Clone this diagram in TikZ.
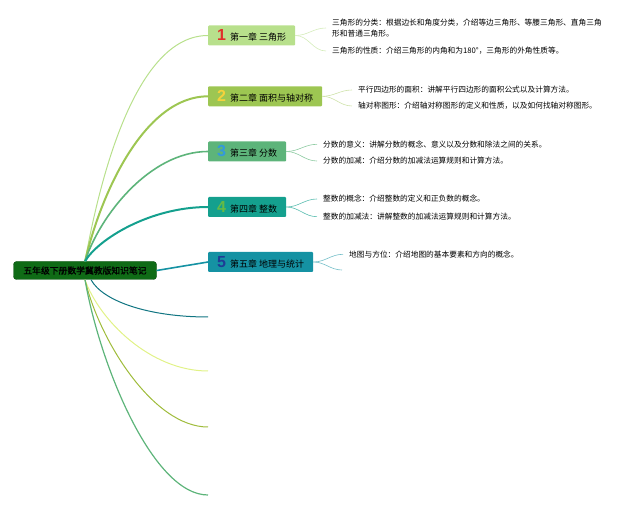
\documentclass[tikz,border=0pt]{standalone}
\usepackage{fontspec}
\newfontfamily\cjk[AutoFakeBold=1.2]{Noto Sans CJK SC}
\newfontfamily\numfont{Liberation Sans}
\usetikzlibrary{positioning}
\definecolor{rootgreen}{HTML}{0F6B16}
\definecolor{cA}{HTML}{B8E08C}\definecolor{cB}{HTML}{9DC652}\definecolor{cC}{HTML}{5DB47A}
\definecolor{cD}{HTML}{14A08E}\definecolor{cE}{HTML}{1592A3}
\definecolor{nA}{HTML}{E0302A}\definecolor{nB}{HTML}{F5D23C}\definecolor{nC}{HTML}{3399DD}
\definecolor{nD}{HTML}{66BB44}\definecolor{nE}{HTML}{1E3C96}
\newcommand\chnum[2]{{\numfont\bfseries\fontsize{16}{16}\selectfont\textcolor{#1}{#2}}\hspace{4pt}}

\begin{document}
\begin{tikzpicture}[x=1pt, y=-1pt,
  root/.style={fill=rootgreen, draw=rootgreen!70!black, rounded corners=3pt, minimum width=143pt, minimum height=18pt, inner sep=0pt, font=\cjk\fontsize{8.8}{10}\selectfont\bfseries},
  chap/.style={fill=#1, rounded corners=1pt, anchor=west, minimum height=20pt, inner xsep=9pt, inner ysep=0pt, font=\cjk\fontsize{9}{10}\selectfont},
  note/.style={anchor=west, align=left, inner xsep=6pt, inner ysep=1pt, font=\cjk\fontsize{7.7}{10.5}\selectfont},
  branch/.style={draw=#1, line width=1.6pt},
  twig/.style={draw=#1, line width=0.6pt}]
\useasboundingbox (0,0) rectangle (640,510);
% root and chapters
\node[root] (root) at (85,270.5) {五年级下册数学冀教版知识笔记};
\node[chap=cA] (ch1) at (208,35.5) {\chnum{nA}{1}第一章 三角形};
\node[chap=cB] (ch2) at (208,96.3) {\chnum{nB}{2}第二章 面积与轴对称};
\node[chap=cC] (ch3) at (208,151.5) {\chnum{nC}{3}第三章 分数};
\node[chap=cD] (ch4) at (208,207) {\chnum{nD}{4}第四章 整数};
\node[chap=cE] (ch5) at (208,262) {\chnum{nE}{5}第五章 地理与统计};
% notes
\node[note] (n11) at (326,28) {三角形的分类：根据边长和角度分类，介绍等边三角形、等腰三角形、直角三角\\形和普通三角形。};
\node[note] (n12) at (326,51) {三角形的性质：介绍三角形的内角和为180°，三角形的外角性质等。};
\node[note] (n21) at (352,90) {平行四边形的面积：讲解平行四边形的面积公式以及计算方法。};
\node[note] (n22) at (352,106) {轴对称图形：介绍轴对称图形的定义和性质，以及如何找轴对称图形。};
\node[note] (n31) at (317,144.3) {分数的意义：讲解分数的概念、意义以及分数和除法之间的关系。};
\node[note] (n32) at (317,161) {分数的加减：介绍分数的加减法运算规则和计算方法。};
\node[note] (n41) at (317,199) {整数的概念：介绍整数的定义和正负数的概念。};
\node[note] (n42) at (317,216.7) {整数的加减法：讲解整数的加减法运算规则和计算方法。};
\node[note] (n51) at (343,254.3) {地图与方位：介绍地图的基本要素和方向的概念。};
\coordinate (c52) at (342,270);
\coordinate (e6) at (208,317);\coordinate (e7) at (208,371);\coordinate (e8) at (208,427);\coordinate (e9) at (208,495);
% branches
\draw[branch=cA, line width=1pt] (root.north) .. controls +(18,-100) and +(-68,0) .. (ch1.west);
\draw[branch=cB, line width=2pt] (root.north) .. controls +(17,-72) and +(-62,0) .. (ch2.west);
\draw[branch=cC] (root.north) .. controls +(15,-46) and +(-58,0) .. (ch3.west);
\draw[branch=cD, line width=2pt] (root.north) .. controls +(13,-22) and +(-58,0) .. (ch4.west);
\draw[branch=cE] (root.east) -- (ch5.west);
\draw[branch=cE!80!black, line width=1pt] ([xshift=6]root.south) .. controls +(12,22) and +(-58,0) .. (e6);
\draw[branch=cA!60!yellow!70!white, line width=1pt] (root.south) .. controls +(14,40) and +(-58,0) .. (e7);
\draw[branch=cB!80!yellow!90!black, line width=1pt] (root.south) .. controls +(14,60) and +(-55,0) .. (e8);
\draw[branch=cC, line width=1.2pt] (root.south) .. controls +(15,86) and +(-55,0) .. (e9);
% twigs
\draw[twig=cA!60] (ch1.east) to[out=0,in=180] (n11.west);\draw[twig=cA!60] (ch1.east) to[out=0,in=180] (n12.west);
\draw[twig=cB!50] (ch2.east) to[out=0,in=180] (n21.west);\draw[twig=cB!50] (ch2.east) to[out=0,in=180] (n22.west);
\draw[twig=cC!70] (ch3.east) to[out=0,in=180] (n31.west);\draw[twig=cC!70] (ch3.east) to[out=0,in=180] (n32.west);
\draw[twig=cD!70] (ch4.east) to[out=0,in=180] (n41.west);\draw[twig=cD!70] (ch4.east) to[out=0,in=180] (n42.west);
\draw[twig=cE!60] (ch5.east) to[out=0,in=180] (n51.west);\draw[twig=cE!60] (ch5.east) to[out=0,in=180] (c52);
\end{tikzpicture}
\end{document}
